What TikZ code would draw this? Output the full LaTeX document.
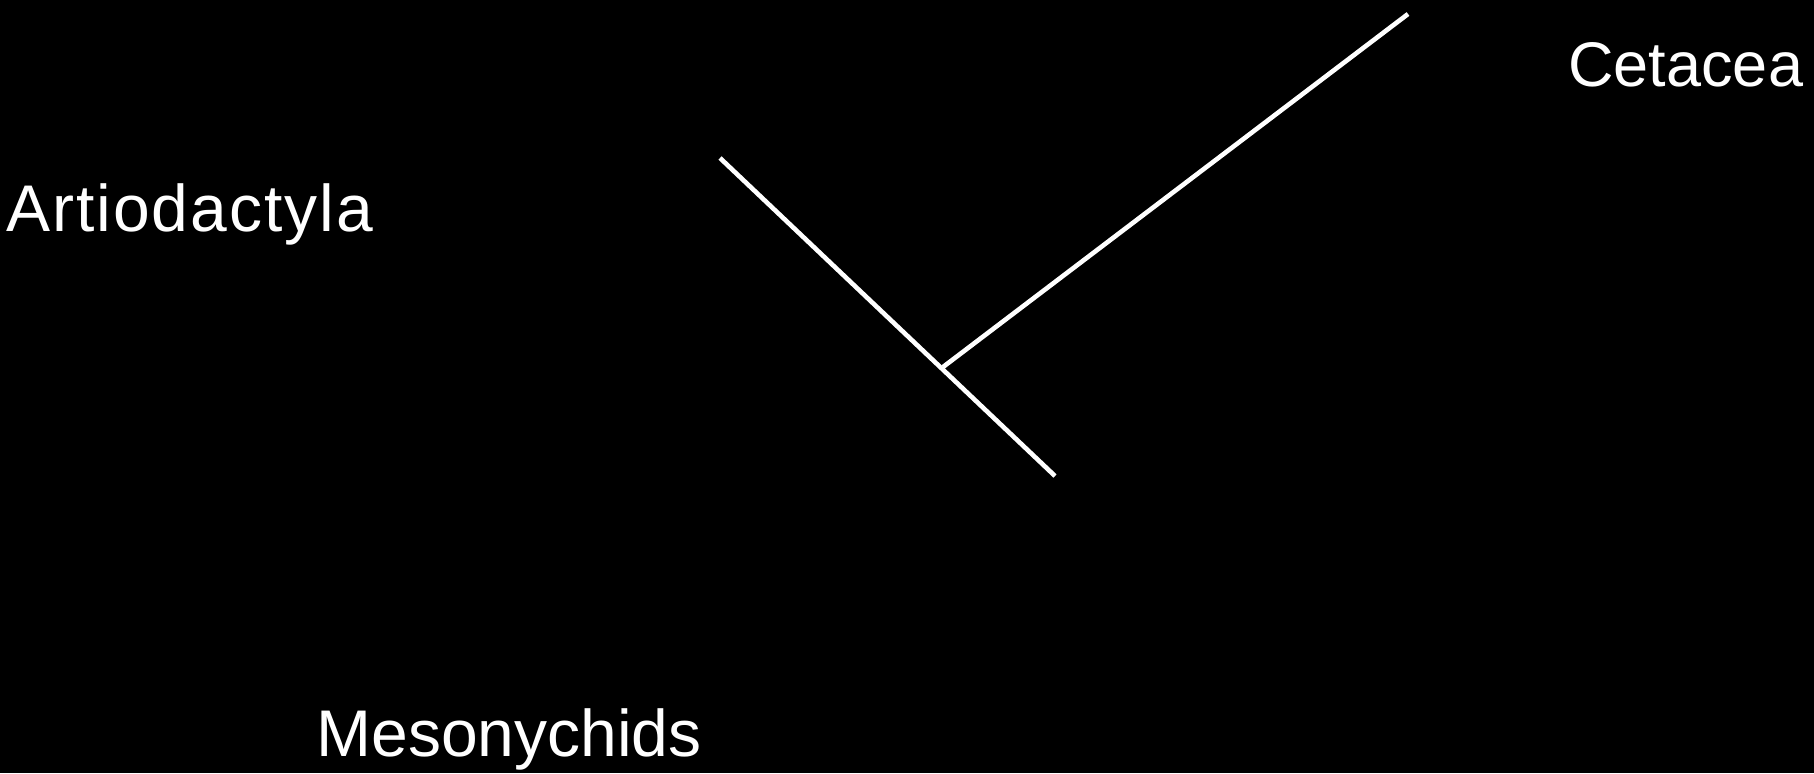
\documentclass[tikz,border=0pt]{standalone}
\usepackage{fontspec}
\setmainfont{Liberation Sans}
\usepackage{tikz}
\usetikzlibrary{positioning}
\definecolor{TreeWhite}{RGB}{255,255,255}
\tikzset{
  branch/.style={line width=2.3pt, TreeWhite},
  taxon/.style={TreeWhite, inner sep=0pt, anchor=base west, font=\fontsize{33}{38}\selectfont}
}
\begin{document}
\begin{tikzpicture}[x=0.5pt, y=-0.5pt]
          \fill[black] (0,0) rectangle (1814,773);
          \useasboundingbox (0,0) rectangle (1814,773);
          % tree
          \coordinate (artio) at (720,158);
          \coordinate (meso) at (1055,476);
          \coordinate (split) at (943,367);
          \coordinate (ceta) at (1408,14);
          \draw[branch] (artio) -- (meso);
          \draw[branch] (split) -- (ceta);
          % labels
          \node[taxon, font=\fontsize{33}{38}\selectfont\addfontfeatures{LetterSpace=3}] (artiolabel) at (6,231) {Artiodactyla};
          \node[taxon, font=\fontsize{31.5}{38}\selectfont] (cetalabel) at (1568,86) {Cetacea};
          \node[taxon] (mesolabel) at (316,756) {Mesonychids};
        \end{tikzpicture}
\end{document}
